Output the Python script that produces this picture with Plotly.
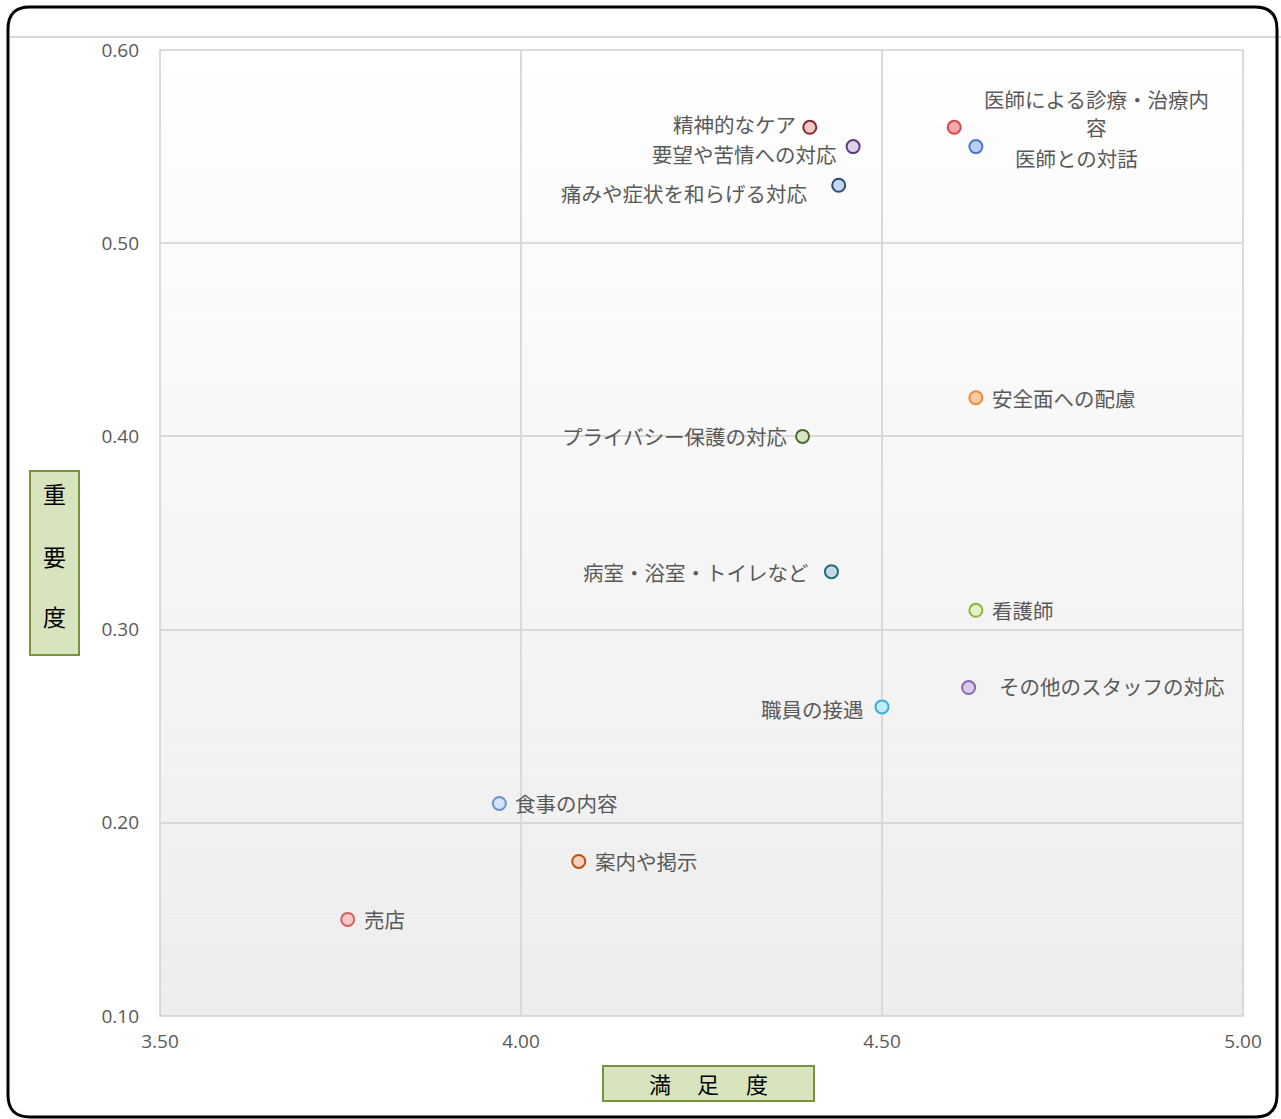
import plotly.graph_objects as go

labels = ["精神的なケア", "要望や苦情への対応", "痛みや症状を和らげる対応", "医師による診療・治療内<br>容",
          "医師との対話", "安全面への配慮", "プライバシー保護の対応", "病室・浴室・トイレなど",
          "看護師", "その他のスタッフの対応", "職員の接遇", "食事の内容", "案内や掲示", "売店"]
satisfaction = [4.40, 4.46, 4.44, 4.60, 4.63, 4.63, 4.39, 4.43, 4.63, 4.62, 4.50, 3.97, 4.08, 3.76]
importance = [0.56, 0.55, 0.53, 0.56, 0.55, 0.42, 0.40, 0.33, 0.31, 0.27, 0.26, 0.21, 0.18, 0.15]
fill_colors = ["#f0c8c8", "#ddd0e8", "#c8d8ec", "#f8a8a8", "#b8d0f5", "#fbc8a0", "#d8e4c4",
               "#c4dce2", "#e4f4c8", "#dccbe8", "#c4ecf8", "#d4e4f8", "#fbd0c0", "#f8c8c8"]
line_colors = ["#8b2a2a", "#5b3d7a", "#2a4a7a", "#d04a4a", "#4a78c8", "#f08a3a", "#4a6a2a",
               "#2a6a7a", "#8ab83a", "#8a64b8", "#3ab0d8", "#6a94cc", "#b85010", "#d06060"]
# label placement (pixel offsets from marker)
label_anchor = ["right", "right", "right", "center", "left", "left", "right", "right",
                "left", "left", "right", "left", "left", "left"]
label_dx = [-12, -14, -30, 142, 37, 14, -14, -20, 14, 28, -16, 14, 14, 14]
label_dy = [3, -7, -8, 28, -11, 0, 0, 0, 0, 2, -2, 0, 0, 0]
line_gap = 28

x_ticks = [3.5, 4.0, 4.5, 5.0]
x_ticktext = ["3.50", "4.00", "4.50", "5.00"]
y_ticks = [0.1, 0.2, 0.3, 0.4, 0.5, 0.6]
y_ticktext = ["0.10", "0.20", "0.30", "0.40", "0.50", "0.60"]
y_title_chars = ["重", "要", "度"]
x_title_chars = ["満", "足", "度"]

W, H = 1281, 1119
ML, MR, MT, MB = 160, 38, 50, 103
PW, PH = W - ML - MR, H - MT - MB

def px(x):
    return (x - ML) / PW

def py(y):
    return (H - MB - y) / PH

fig = go.Figure()
fig.add_trace(go.Scatter(
    x=satisfaction, y=importance, mode="markers",
    marker=dict(size=13, color=fill_colors, line=dict(color=line_colors, width=2)),
    hoverinfo="text", text=[t.replace("<br>", "") for t in labels], showlegend=False, cliponaxis=False,
))

font_jp = "Noto Sans CJK JP, Noto Sans, sans-serif"
annotations = []
for t, xv, yv, anc, dx, dy in zip(labels, satisfaction, importance, label_anchor, label_dx, label_dy):
    for k, line in enumerate(t.split("<br>")):
        annotations.append(dict(x=xv, y=yv, xref="x", yref="y", text=line, showarrow=False,
                                xanchor=anc, yanchor="middle", xshift=dx, yshift=dy - k * line_gap,
                                align="center", font=dict(size=20.5, color="#595959", family=font_jp)))

shapes = []
# gradient background
n = 40
for i in range(n):
    g = int(255 - (255 - 238) * (i / (n - 1)))
    shapes.append(dict(type="rect", xref="x domain", yref="y domain", x0=0, x1=1,
                       y0=1 - (i + 1) / n, y1=1 - i / n, line=dict(width=0),
                       fillcolor=f"rgb({g},{g},{g})", layer="below"))
# top gray line
shapes.append(dict(type="line", xref="paper", yref="paper", x0=px(10), x1=px(1281),
                   y0=py(37), y1=py(37), line=dict(color="#d9d9d9", width=2)))
# rounded frame
L, T, R, B, r = 8, 7, 1277, 1117, 22
def P(a, b):
    return f"{px(a):.5f},{py(b):.5f}"
path = (f"M {P(L + r, T)} L {P(R - r, T)} Q {P(R, T)} {P(R, T + r)} L {P(R, B - r)} "
        f"Q {P(R, B)} {P(R - r, B)} L {P(L + r, B)} Q {P(L, B)} {P(L, B - r)} "
        f"L {P(L, T + r)} Q {P(L, T)} {P(L + r, T)} Z")
shapes.append(dict(type="path", xref="paper", yref="paper", path=path,
                   line=dict(color="#000000", width=3)))
# axis title boxes
shapes.append(dict(type="rect", xref="paper", yref="paper", x0=px(30), x1=px(79), y0=py(655), y1=py(471),
                   fillcolor="#d7e4bd", line=dict(color="#77933c", width=2)))
shapes.append(dict(type="rect", xref="paper", yref="paper", x0=px(603), x1=px(814), y0=py(1101), y1=py(1066),
                   fillcolor="#d7e4bd", line=dict(color="#77933c", width=2)))
# plot area border
shapes.append(dict(type="rect", xref="x domain", yref="y domain", x0=0, x1=1, y0=0, y1=1,
                   line=dict(color="#d0d0d0", width=1.5), layer="below"))

for ch, yy in zip(y_title_chars, [493, 556, 616]):
    annotations.append(dict(xref="paper", yref="paper", x=px(54), y=py(yy), text=ch, showarrow=False,
                            xanchor="center", yanchor="middle",
                            font=dict(size=23, color="#000000", family=font_jp)))
for ch, xx in zip(x_title_chars, [660, 708, 757]):
    annotations.append(dict(xref="paper", yref="paper", x=px(xx), y=py(1083), text=ch,
                            showarrow=False, xanchor="center", yanchor="middle",
                            font=dict(size=22, color="#000000", family=font_jp)))

fig.update_layout(
    width=W, height=H, margin=dict(l=ML, r=MR, t=MT, b=MB),
    paper_bgcolor="#ffffff", plot_bgcolor="rgba(0,0,0,0)",
    shapes=shapes, annotations=annotations,
    xaxis=dict(range=[3.5, 5.0], tickvals=x_ticks, ticktext=x_ticktext, showgrid=True,
               gridcolor="#d9d9d9", gridwidth=1.5, zeroline=False, showline=False,
               tickfont=dict(size=19, color="#595959", family="Open Sans, Noto Sans, sans-serif"),
               ticks="", ticklabelstandoff=12),
    yaxis=dict(range=[0.1, 0.6], tickvals=y_ticks, ticktext=y_ticktext, showgrid=True,
               gridcolor="#d9d9d9", gridwidth=1.5, zeroline=False, showline=False,
               tickfont=dict(size=19, color="#595959", family="Open Sans, Noto Sans, sans-serif"),
               ticks="", ticklabelstandoff=20),
)

fig.write_html("out.html", config={"displayModeBar": False},
               post_script="document.body.style.margin='0';document.body.style.overflow='hidden';")
